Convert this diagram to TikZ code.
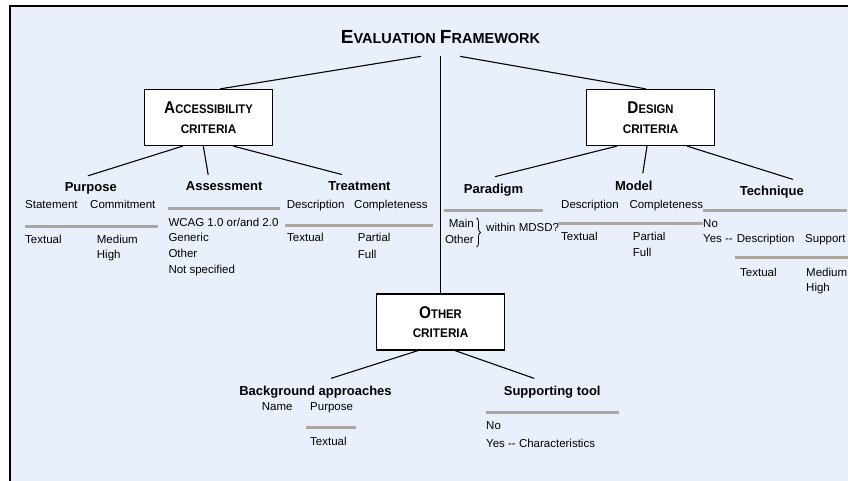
\documentclass[tikz,border=0pt]{standalone}
\usepackage{fontspec}
\usepackage{graphicx}
\setmainfont{Liberation Sans}
\usetikzlibrary{positioning, decorations.pathreplacing}
\definecolor{frameBlue}{RGB}{234, 240, 251}
\definecolor{ruleGray}{RGB}{170, 168, 160}
\newcommand{\fakesc}[4]{{\fontsize{#1}{#1}\selectfont #3}{\fontsize{#2}{#2}\selectfont #4}}
\newcommand{\critline}[2]{\scalebox{0.9}[1]{\fakesc{17}{12.5}{#1}{#2}}\\\scalebox{0.94}[1]{CRITERIA}}

\begin{document}
\begin{tikzpicture}[
        x=1pt, y=-1pt,
        node distance=2pt,
        crit/.style={rectangle, draw=black, fill=white, line width=1.2pt, minimum width=128pt, minimum height=56pt, align=center, font=\bfseries\fontsize{12.5}{19.5}\selectfont},
        head/.style={anchor=base, inner xsep=0pt, inner ysep=7pt, font=\bfseries\fontsize{13}{15}\selectfont},
        item/.style={anchor=base west, inner sep=0pt, font=\fontsize{11.5}{14}\selectfont},
        rule/.style={draw=ruleGray, line width=3pt},
        link/.style={draw=black, line width=1.1pt},
        brc/.style={draw=black, line width=0.8pt, decorate, decoration={brace, amplitude=4pt}}
    ]
        \useasboundingbox (0,0) rectangle (848,481);
        \clip (0,0) rectangle (848,481);
        \draw[fill=frameBlue, line width=1.2pt] (10,6) rectangle (860,490);

        % Main components
        \node[anchor=base, inner xsep=0pt, inner ysep=12pt, font=\bfseries\fontsize{14.5}{17}\selectfont] (eval) at (440.5,44) {\fakesc{19}{14.5}{E}{VALUATION} \fakesc{19}{14.5}{F}{RAMEWORK}};
        \node[crit] (acc) at (208.5,117.5) {\critline{A}{CCESSIBILITY}};
        \node[crit] (des) at (650.5,117.5) {\critline{D}{ESIGN}};
        \node[crit] (oth) at (440.5,322) {\critline{O}{THER}};

        \draw[link] ([xshift=-19.5pt]eval.south) -- ([xshift=11.5pt]acc.north);
        \draw[link] ([xshift=19.5pt]eval.south) -- ([xshift=-4.5pt]des.north);
        \draw[link] (eval.south) -- (oth.north);

        % Criteria
        \node[head] (pur) at (90.8,192) {Purpose};
        \node[head] (ass) at (224.2,191) {Assessment};
        \node[head] (trt) at (359.5,190.7) {Treatment};
        \node[head] (par) at (493.5,193.3) {Paradigm};
        \node[head] (mdl) at (633.8,190) {Model};
        \node[head] (tec) at (771.8,196) {Technique};
        \node[head] (bga) at (315.5,395) {Background approaches};
        \node[head] (spt) at (552.2,395) {Supporting tool};

        \draw[link] ([xshift=-25.8pt]acc.south) -- ([xshift=-3pt]pur.north);
        \draw[link] ([xshift=-5.2pt]acc.south) -- ([xshift=-16pt]ass.north);
        \draw[link] ([xshift=24.8pt]acc.south) -- ([xshift=-17.5pt]trt.north);
        \draw[link] ([xshift=-33.5pt]des.south) -- ([xshift=1.5pt]par.north);
        \draw[link] ([xshift=-3.5pt]des.south) -- ([xshift=9pt]mdl.north);
        \draw[link] ([xshift=36.5pt]des.south) -- ([xshift=21pt]tec.north);
        \draw[link] ([xshift=-22.5pt]oth.south) -- ([xshift=15.5pt]bga.north);
        \draw[link] ([xshift=14.5pt]oth.south) -- ([xshift=-18pt]spt.north);

        % Purpose
        \node[item] (purstm) at (25,208) {Statement};
        \node[item] (purcmt) at (90,208) {Commitment};
        \draw[rule] (25,226) -- (158,226);
        \node[item] (purtxt) at (25,243) {Textual};
        \node[item] (purmed) at (96.7,243) {Medium};
        \node[item] (purhgh) at ([yshift=-15.5pt]purmed.base west) {High};

        % Assessment
        \draw[rule] (168,208.3) -- (280,208.3);
        \node[item] (asswcag) at (168.3,226) {WCAG 1.0 or/and 2.0};
        \node[item] (assgen) at ([yshift=-15.7pt]asswcag.base west) {Generic};
        \node[item] (assoth) at ([yshift=-15.7pt]assgen.base west) {Other};
        \node[item] (assnsp) at ([yshift=-15.7pt]assoth.base west) {Not specified};

        % Treatment
        \node[item] (trtdsc) at (286.7,208) {Description};
        \node[item] (trtcmp) at (354,208) {Completeness};
        \draw[rule] (285,225) -- (433,225);
        \node[item] (trttxt) at (287,241.7) {Textual};
        \node[item] (trtpar) at (357.7,241.7) {Partial};
        \node[item] (trtful) at ([yshift=-16.5pt]trtpar.base west) {Full};

        % Paradigm
        \draw[rule] (444.3,210) -- (543.3,210);
        \node[item, anchor=base east] (parmain) at (474,227.3) {Main};
        \node[item, anchor=base east] (paroth) at (474,243.3) {Other};
        \draw[brc] ([xshift=2.5pt,yshift=1pt]parmain.north east) -- ([xshift=2.5pt,yshift=-3.5pt]paroth.south east);
        \node[item] (parmdsd) at (486,231.7) {within MDSD?};

        % Model
        \node[item] (mdldsc) at (561,208) {Description};
        \node[item] (mdlcmp) at (629.3,208) {Completeness};
        \draw[rule] (558,223.3) -- (703,223.3);
        \node[item] (mdltxt) at (561,240) {Textual};
        \node[item] (mdlpar) at (632.7,240) {Partial};
        \node[item] (mdlful) at ([yshift=-16.7pt]mdlpar.base west) {Full};

        % Technique
        \draw[rule] (703,210) -- (847,210);
        \node[item] (tecno) at (703,227.3) {No};
        \node[item] (tecyes) at (703,242.7) {Yes -{}-};
        \node[item] (tecdsc) at (736.7,242.7) {Description};
        \node[item] (tecsup) at (805,242.7) {Support};
        \draw[rule] (735,257.3) -- (850,257.3);
        \node[item] (tectxt) at (740,276) {Textual};
        \node[item] (tecmed) at (806,276) {Medium};
        \node[item] (techgh) at ([yshift=-15.7pt]tecmed.base west) {High};

        % Background approaches
        \node[item] (bganam) at (261.7,410.7) {Name};
        \node[item] (bgapur) at (310,410.7) {Purpose};
        \draw[rule] (306,427.7) -- (355.7,427.7);
        \node[item] (bgatxt) at (310,445) {Textual};

        % Supporting tool
        \draw[rule] (486,412.3) -- (619,412.3);
        \node[item] (sptno) at (486,429) {No};
        \node[item] (sptyes) at (486,447.7) {Yes -{}- Characteristics};
    \end{tikzpicture}
\end{document}
